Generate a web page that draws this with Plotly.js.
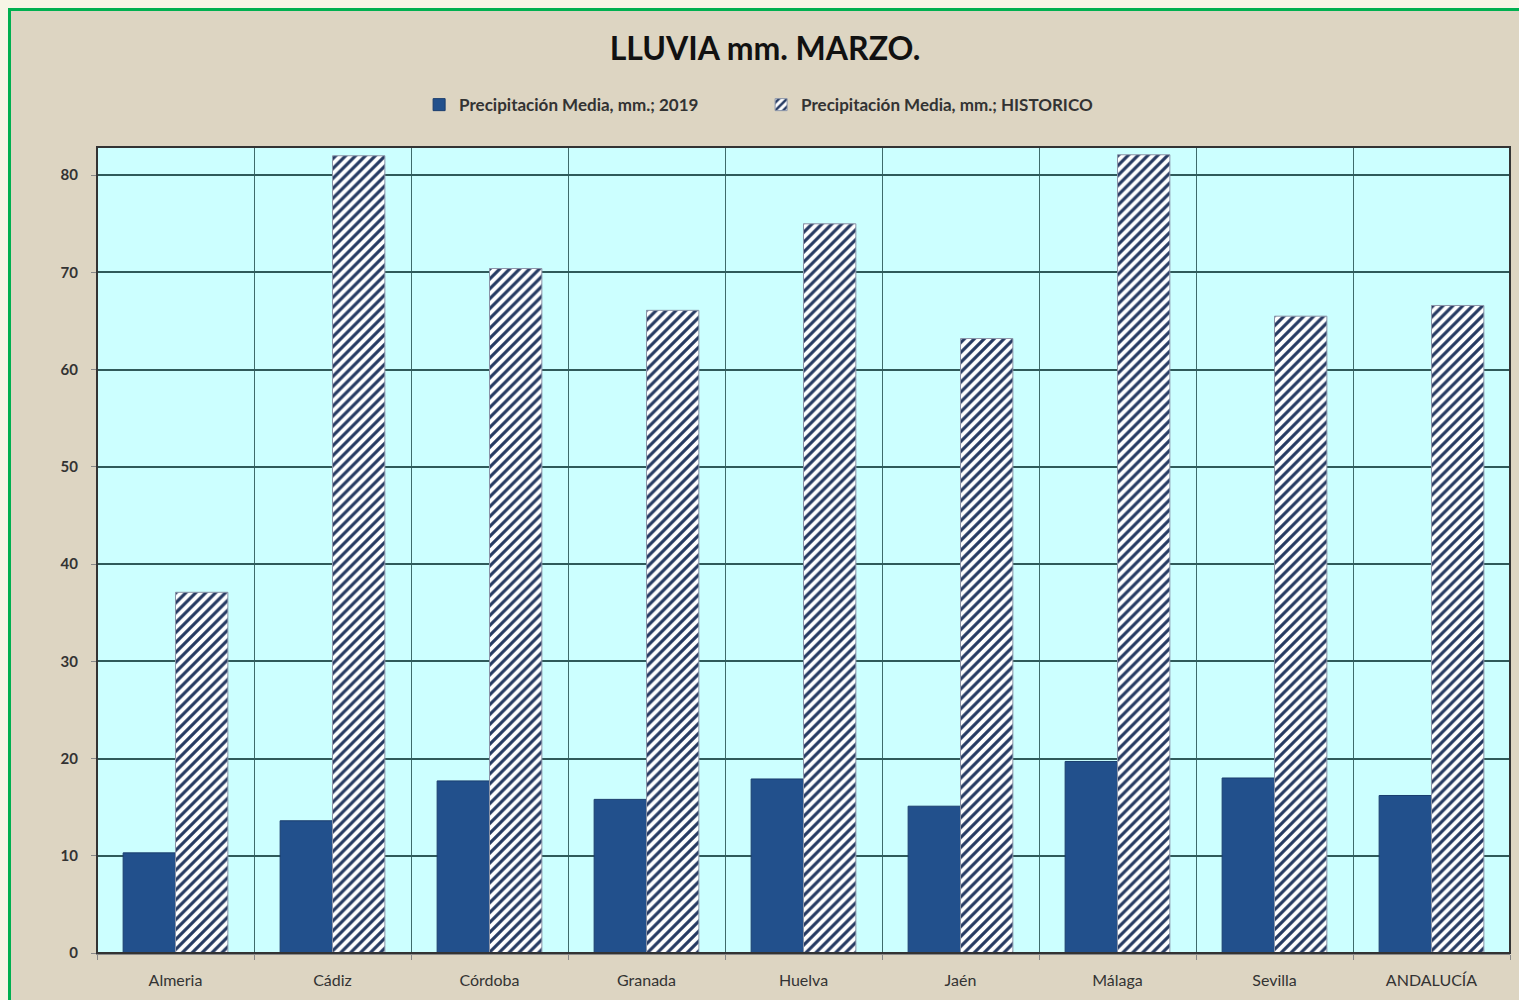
<!DOCTYPE html>
<html><head><meta charset="utf-8">
<script src="https://cdn.plot.ly/plotly-3.0.1.min.js"></script>
<style>
body{margin:0;background:#f7f5e6;overflow:hidden;}
#wrap{position:absolute;left:8px;top:8px;width:1520px;height:1000px;border-top:3px solid #00b050;border-left:3px solid #00b050;background:#ddd5c2;}
#chart{width:1508px;height:989px;}
</style></head><body>
<div id="wrap"><div id="chart"></div></div>
<script>
const categories = ["Almeria","Cádiz","Córdoba","Granada","Huelva","Jaén","Málaga","Sevilla","ANDALUCÍA"];
const lluvia2019 = [10.3,13.6,17.7,15.8,17.9,15.1,19.7,18.0,16.2];
const historico = [37.1,82.0,70.4,66.1,75.0,63.2,82.1,65.5,66.6];
const seriesNames = ["Precipitación Media, mm.; 2019","Precipitación Media, mm.; HISTORICO"];

const data = [
  {type:"bar", x:categories, y:lluvia2019, name:seriesNames[0],
   marker:{color:"#22508c", line:{color:"#1a3d6e", width:1}}},
  {type:"bar", x:categories, y:historico, name:seriesNames[1],
   marker:{color:"#ffffff", line:{color:"#8a94a8", width:1},
     pattern:{shape:"/", fgcolor:"#263a62", bgcolor:"#ffffff", size:7, solidity:0.45}}}
];
const layout = {
  width:1508, height:989,
  paper_bgcolor:"#ddd5c2", plot_bgcolor:"#ccffff",
  margin:{l:86,r:9,t:136,b:47},
  font:{family:"Lato, 'Open Sans', sans-serif", color:"#333"},
  title:{text:"<b>LLUVIA mm. MARZO.</b>", font:{size:32,color:"#111",family:"Lato, sans-serif"}, x:0.5, xanchor:"center", y:0.962, yanchor:"middle"},
  showlegend:true,
  legend:{orientation:"h", x:0.47, xanchor:"center", y:1.052, yanchor:"middle", font:{size:17,color:"#333",family:"Lato, sans-serif",weight:"bold"}, bgcolor:"rgba(0,0,0,0)", traceorder:"normal", itemwidth:30, entrywidth:297, entrywidthmode:"pixels"},
  barmode:"group", bargap:0.333, bargroupgap:0,
  xaxis:{type:"category", tickson:"boundaries", showgrid:true, gridcolor:"#3f6b6b", gridwidth:1,
    ticks:"outside", ticklen:5, tickcolor:"#888", showline:true, linecolor:"#8a8a8a", linewidth:2,
    tickfont:{size:16,color:"#333"}, ticklabelstandoff:12},
  yaxis:{range:[0,82.9], dtick:10, tick0:0, showgrid:true, gridcolor:"#2f5a5a", gridwidth:2,
    ticks:"outside", ticklen:5, tickcolor:"#888", showline:true, linecolor:"#8a8a8a", linewidth:1,
    tickfont:{size:15,color:"#333",weight:"bold"}, zeroline:false, ticklabelstandoff:10},
  shapes:[{type:"rect", xref:"paper", yref:"paper", x0:0, x1:1, y0:0, y1:1, line:{color:"#333",width:2}, fillcolor:"rgba(0,0,0,0)", layer:"above"}]
};
Plotly.newPlot("chart", data, layout, {displayModeBar:false, staticPlot:true});
</script></body></html>
